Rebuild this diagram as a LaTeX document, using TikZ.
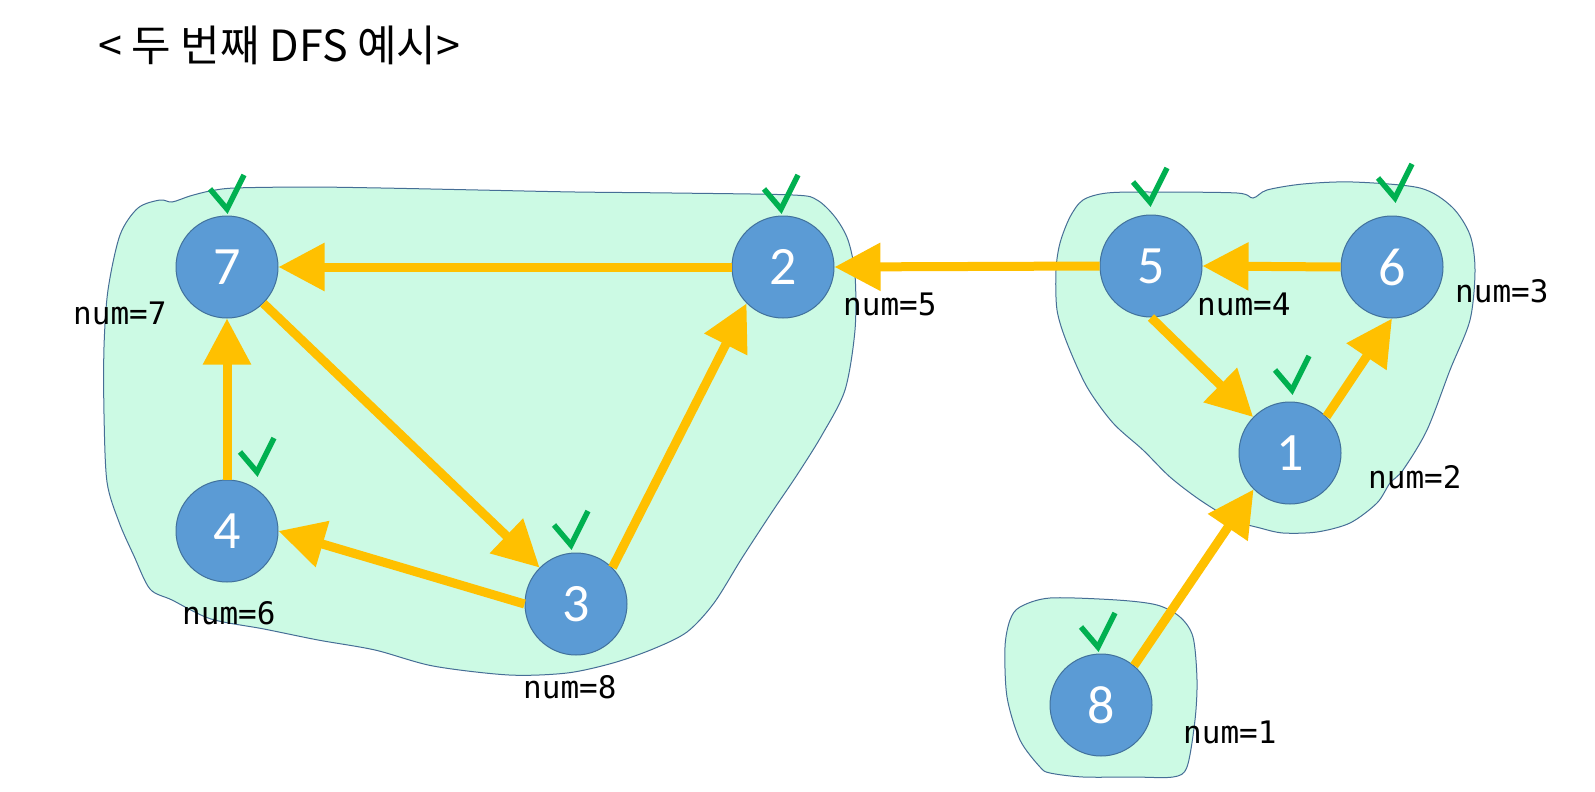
\documentclass[tikz,border=0pt]{standalone}
\usepackage{fontspec}
\usetikzlibrary{arrows.meta}
\newfontfamily\krfont{Noto Sans CJK KR}
\newfontfamily\numfont{Carlito}
\newfontfamily\lblfont{DejaVu Sans Mono}
\definecolor{blobfill}{RGB}{204,250,228}
\definecolor{blobline}{RGB}{70,110,150}
\definecolor{nodefill}{RGB}{91,155,213}
\definecolor{nodeline}{RGB}{65,113,156}
\definecolor{arrowc}{RGB}{255,192,0}
\definecolor{checkc}{RGB}{0,176,80}
\begin{document}
\begin{tikzpicture}[x=1pt,y=-1pt,
  blob/.style={fill=blobfill,draw=blobline,line width=1pt},
  vtx/.style={circle,fill=nodefill,draw=nodeline,line width=1pt,minimum size=102pt,inner sep=0pt,text=white,font=\numfont\fontsize{54}{64}\selectfont},
  lbl/.style={anchor=base west,inner sep=0pt,font=\lblfont\fontsize{31}{36}\selectfont},
  dfsarrow/.style={draw=arrowc,line width=9pt,-{Triangle[length=46pt,width=46pt]}},
  checkst/.style={draw=checkc,line width=5.5pt},
  chk/.pic={\draw[checkst] (-17,-20) -- (0,0) -- (17,-34);}
]
\useasboundingbox (0,0) rectangle (1595,792);
\fill[white] (0,0) rectangle (1595,792);

% title
\node[anchor=base west,inner sep=0pt,font=\krfont\fontsize{43}{50}\selectfont] (title) at (98,62) {< 두 번째 DFS 예시>};

% blobs
\draw[blob] plot[smooth cycle,tension=0.5] coordinates {
 (120,235) (138,208) (160,200) (172,202) (190,196) (210,191) (235,188) (308,187) (381,188) (478,190) (575,192) (672,193) (793,195) (817,200) (835,217) (848,240) (855,275) (855,330) (845,390) (822,435) (797,475) (772,512) (742,558) (714,603) (687,632) (653,649) (613,663) (567,673) (509,675) (433,666) (375,650) (318,640) (264,629) (211,619) (172,600) (150,589) (134,556) (119,522) (107,482) (104,414) (104,347) (108,290)};
\draw[blob] plot[smooth cycle,tension=0.5] coordinates {
 (1083,200) (1107,193) (1153,192) (1237,193) (1253,198) (1267,190) (1303,184) (1353,182) (1420,188) (1452,207) (1470,235) (1475,270) (1470,320) (1450,370) (1427,430) (1403,470) (1390,483) (1377,503) (1350,523) (1317,532) (1283,533) (1260,528) (1233,520) (1200,500) (1170,477) (1143,450) (1113,423) (1087,387) (1067,343) (1057,310) (1056,270) (1060,243) (1070,217)};
\draw[blob] plot[smooth cycle,tension=0.5] coordinates {
 (1020,607) (1050,598) (1117,600) (1157,605) (1180,617) (1193,637) (1197,680) (1195,720) (1187,767) (1173,777) (1133,777) (1083,777) (1050,773) (1040,767) (1020,740) (1007,697) (1005,647) (1010,620)};

% vertices
\node[vtx] (n7) at (227,267) {7};
\node[vtx] (n2) at (783,267) {2};
\node[vtx] (n4) at (227,531) {4};
\node[vtx] (n3) at (576,604) {3};
\node[vtx] (n5) at (1151,266) {5};
\node[vtx] (n6) at (1392,267) {6};
\node[vtx] (n1) at (1290,453) {1};
\node[vtx] (n8) at (1101,705) {8};

% arrows
\draw[dfsarrow] (n2.west) -- (n7.east);
\draw[dfsarrow] (n5.west) -- (n2.east);
\draw[dfsarrow] (n6.west) -- (n5.east);
\draw[dfsarrow] (n5.south) -- (n1);
\draw[dfsarrow] (n1.north east) -- (n6.south);
\draw[dfsarrow] (n8.50) -- (n1.225);
\draw[dfsarrow] (n7.south east) -- (n3.north west);
\draw[dfsarrow] (n3.west) -- (n4.east);
\draw[dfsarrow] (n3.north east) -- (n2.south west);
\draw[dfsarrow] (n4.north) -- (n7.south);

% checks
\pic at (227,209) {chk};
\pic at (781,209) {chk};
\pic at (1150,202) {chk};
\pic at (1395,198) {chk};
\pic at (1292,390) {chk};
\pic at (257,472) {chk};
\pic at (571,545) {chk};
\pic at (1098,647) {chk};

% labels
\node[lbl] (l7) at (73,324) {num=7};
\node[lbl] (l5) at (843,315) {num=5};
\node[lbl] (l4) at (1197,315) {num=4};
\node[lbl] (l3) at (1455,302) {num=3};
\node[lbl] (l2) at (1368,488) {num=2};
\node[lbl] (l6) at (182,624) {num=6};
\node[lbl] (l8) at (523,698) {num=8};
\node[lbl] (l1) at (1183,743) {num=1};
\end{tikzpicture}
\end{document}
